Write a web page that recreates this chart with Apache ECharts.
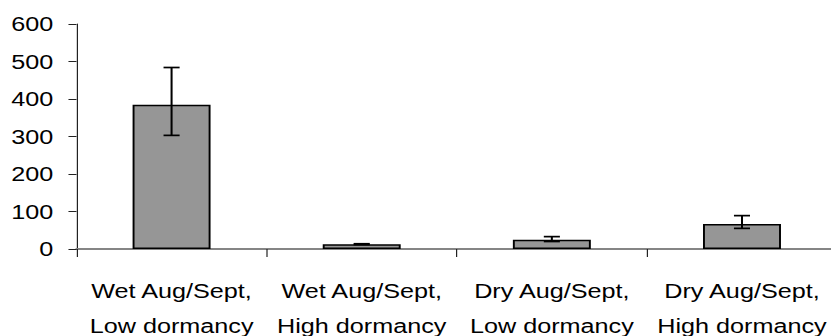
<!DOCTYPE html>
<html>
<head>
<meta charset="utf-8">
<script src="https://cdn.jsdelivr.net/npm/echarts@6/dist/echarts.min.js"></script>
<style>
  html, body { margin: 0; padding: 0; background: #fff; overflow: hidden; }
  #wrap { width: 831px; height: 336px; overflow: hidden; }
  /* chart is laid out narrower and widened horizontally to get the broad lettering */
  #chart { width: 692.5px; height: 336px; transform: scaleX(1.2); transform-origin: 0 0; }
</style>
</head>
<body>
<div id="wrap"><div id="chart"></div></div>
<script>
const categories = [
  'Wet Aug/Sept,\nLow dormancy',
  'Wet Aug/Sept,\nHigh dormancy',
  'Dry Aug/Sept,\nLow dormancy',
  'Dry Aug/Sept,\nHigh dormancy'
];
const means   = [385, 13, 25, 67];
const errLow  = [303, 12, 20, 55];
const errHigh = [484, 14, 33, 89];
const yTicks  = { min: 0, max: 600, step: 100 };

const FONT = "'Liberation Sans', Arial, sans-serif";

const chart = echarts.init(document.getElementById('chart'), null, { renderer: 'svg' });

const errorData = categories.map((c, i) => [i, errLow[i], errHigh[i]]);

chart.setOption({
  animation: false,
  backgroundColor: '#fff',
  grid: {
    left: 63.75, right: -4.55, top: 24, bottom: 87,
    containLabel: false, outerBoundsMode: 'none'
  },
  xAxis: {
    type: 'category',
    data: categories,
    boundaryGap: true,
    axisLine: { lineStyle: { color: '#858585', width: 2 } },
    axisTick: { show: true, alignWithLabel: false, length: 8, lineStyle: { color: '#222', width: 1 } },
    axisLabel: {
      interval: 0, margin: 24, color: '#000',
      fontFamily: FONT, fontSize: 21, lineHeight: 35
    },
    splitLine: { show: false }
  },
  yAxis: {
    type: 'value',
    min: yTicks.min, max: yTicks.max, interval: yTicks.step,
    axisLine: { show: true, lineStyle: { color: '#222', width: 1 } },
    axisTick: { show: true, length: 6.7, lineStyle: { color: '#222', width: 1 } },
    axisLabel: { margin: 19.3, color: '#000', fontFamily: FONT, fontSize: 21 },
    splitLine: { show: false }
  },
  series: [
    {
      type: 'bar',
      data: means,
      barWidth: '41%',
      itemStyle: { color: '#969696', borderColor: '#000', borderWidth: 1.6 },
      z: 2
    },
    {
      type: 'custom',
      data: errorData,
      z: 5,
      renderItem: function (params, api) {
        const i = api.value(0);
        const lo = api.coord([i, api.value(1)]);
        const hi = api.coord([i, api.value(2)]);
        const half = 6.7;
        const style = { stroke: '#000', lineWidth: 1.7 };
        return {
          type: 'group',
          children: [
            { type: 'line', shape: { x1: hi[0], y1: hi[1], x2: lo[0], y2: lo[1] }, style: style },
            { type: 'line', shape: { x1: hi[0] - half, y1: hi[1], x2: hi[0] + half, y2: hi[1] }, style: style },
            { type: 'line', shape: { x1: lo[0] - half, y1: lo[1], x2: lo[0] + half, y2: lo[1] }, style: style }
          ]
        };
      }
    }
  ]
});
</script>
</body>
</html>
